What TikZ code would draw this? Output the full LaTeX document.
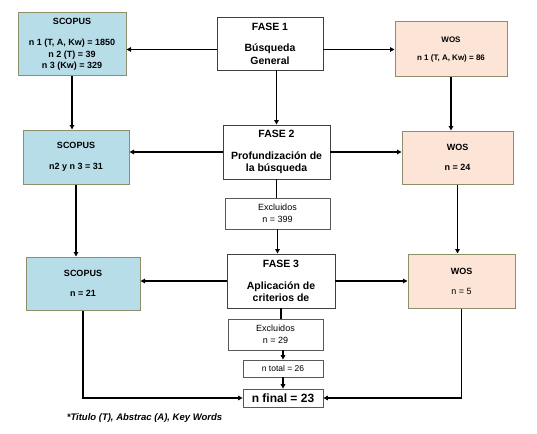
\documentclass[tikz,border=0pt]{standalone}
\usepackage{fontspec}
\setmainfont{Liberation Sans}
\usetikzlibrary{arrows.meta}
\usetikzlibrary{positioning}

\definecolor{scopusblue}{HTML}{B7DEE8}
\definecolor{wospeach}{HTML}{FCE4D6}
\definecolor{boxline}{HTML}{8E8E6A}

\begin{document}
\begin{tikzpicture}[x=1pt,y=-1pt,
    fase/.style={draw=black!75,line width=0.9pt,fill=white,align=center,inner sep=0pt,
      font=\fontsize{10.5}{12.5}\selectfont\bfseries},
    base/.style={draw=boxline,line width=1pt,align=center,inner sep=0pt},
    scopus/.style={base,fill=scopusblue,font=\fontsize{9}{11.5}\selectfont\bfseries},
    wos/.style={base,fill=wospeach,font=\fontsize{9}{11}\selectfont\bfseries},
    excl/.style={draw=black!65,line width=0.8pt,fill=white,align=center,inner sep=0pt,
      font=\fontsize{9}{12}\selectfont},
    link/.style={line width=1.6pt},
    >={Triangle[length=4.5pt,width=4.5pt]}]
   \useasboundingbox (0,0) rectangle (537,433);
   % fases
   \node[fase,minimum width=106pt,minimum height=53pt] (fase_1) at (270,43.5)
     {FASE 1\\[9pt]Búsqueda\\General};
   \node[fase,minimum width=107pt,minimum height=54pt] (fase_2) at (276.5,152)
     {FASE 2\\[9pt]Profundización de\\la búsqueda};
   \node[excl,minimum width=105pt,minimum height=31pt] (excl_1) at (277.5,213.5)
     {Excluidos\\n = 399};
   \node[fase,minimum width=108pt,minimum height=54pt] (fase_3) at (281,281)
     {FASE 3\\[9pt]Aplicación de\\criterios de};
   \node[excl,minimum width=95pt,minimum height=31pt] (excl_2) at (275.5,334.5)
     {Excluidos\\n = 29};
   \node[excl,font=\fontsize{8.5}{10}\selectfont,minimum width=80pt,minimum height=17pt] (n_total) at (283,368.5)
     {n total = 26};
   \node[excl,font=\fontsize{12}{14}\selectfont\bfseries,minimum width=80pt,minimum height=18pt] (n_final) at (283,398)
     {n final = 23};
   % scopus
   \node[scopus,minimum width=108pt,minimum height=63pt] (scopus_1) at (72,44.5)
     {SCOPUS\\[9.5pt]n 1 (T, A, Kw) = 1850\\n 2 (T) = 39\\n 3 (Kw) = 329};
   \node[scopus,minimum width=106pt,minimum height=54pt] (scopus_2) at (76,157)
     {SCOPUS\\[9.5pt]n2 y n 3 = 31};
   \node[scopus,minimum width=114pt,minimum height=53pt] (scopus_3) at (83,283.5)
     {SCOPUS\\[8.5pt]n = 21};
   % wos
   \node[wos,font=\fontsize{8}{10}\selectfont\bfseries,minimum width=112pt,minimum height=55pt] (wos_1) at (451,49.5)
     {WOS\\[7.5pt]n 1 (T, A, Kw) = 86};
   \node[wos,minimum width=111pt,minimum height=53pt] (wos_2) at (457.5,157.5)
     {WOS\\[9pt]n = 24};
   \node[wos,minimum width=107pt,minimum height=54pt] (wos_3) at (461.5,281)
     {WOS\\[9pt]\mdseries n = 5};
   \node[font=\fontsize{9.5}{11}\selectfont\bfseries\itshape] (note) at (144.5,418)
     {*Titulo (T), Abstrac (A), Key Words};

    \path[->,link]
    (fase_1.west |- wos_1) edge (scopus_1.east |- wos_1)
    (fase_1.east |- wos_1) edge (wos_1)
    (fase_2.north |- fase_1.south) edge (fase_2.north)
    (fase_2) edge (scopus_2.east |- fase_2)
    (fase_2) edge (wos_2.west |- fase_2)
    (scopus_1.south) edge (scopus_1.south |- scopus_2.north)
    (wos_1.south) edge (wos_1.south |- wos_2.north)
    (scopus_2.south) edge (scopus_2.south |- scopus_3.north)
    (wos_2.south) edge (wos_2.south |- wos_3.north)
    (excl_1.south) edge (excl_1.south |- fase_3.north)
    (fase_3) edge (scopus_3.east |- fase_3)
    (fase_3) edge (wos_3.west |- fase_3)
    (n_total.north |- excl_2.south) edge (n_total.north)
    (n_total) edge (n_final);
    \draw[link] (fase_2.south) -- (fase_2.south |- excl_1.north);
    \draw[line width=2.2pt] (fase_3.south) -- (fase_3.south |- excl_2.north);
    \draw[->,link] (scopus_3.south) |- (n_final.west);
    \draw[->,link] (wos_3.south) |- (n_final.east);
\end{tikzpicture}
\end{document}
